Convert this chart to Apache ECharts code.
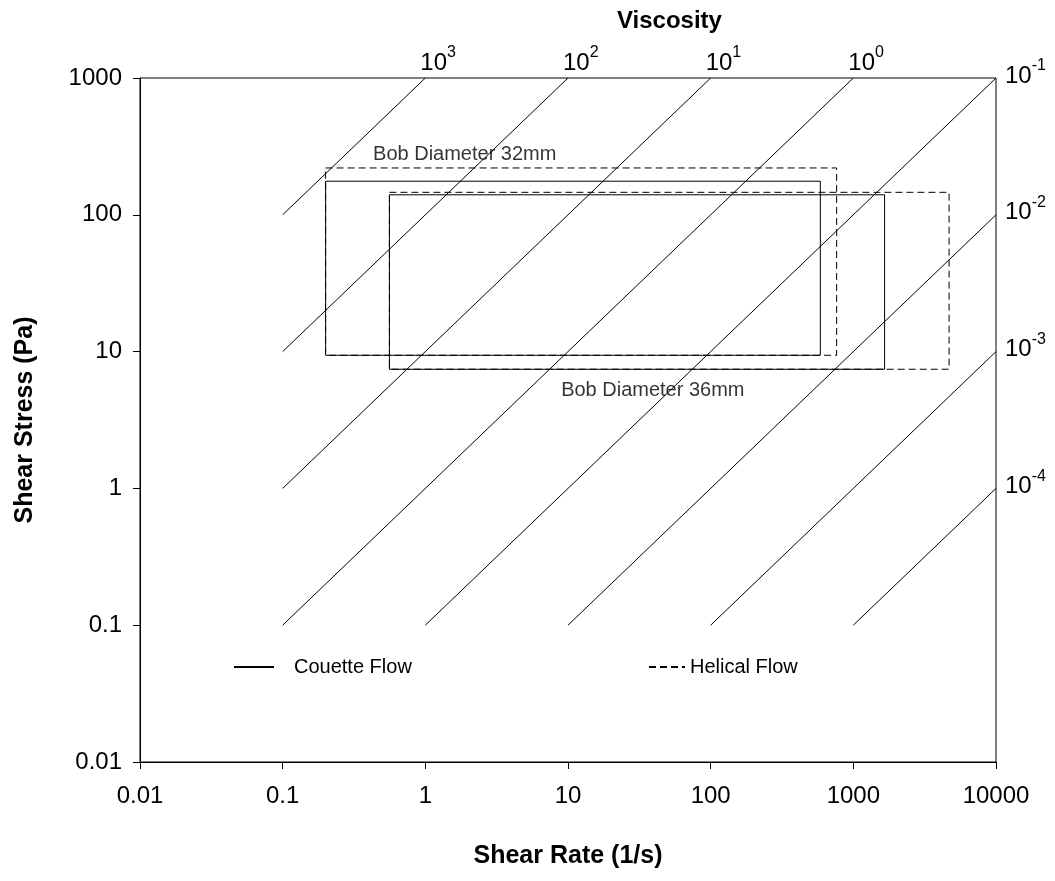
<!DOCTYPE html>
<html>
<head>
<meta charset="utf-8">
<script src="https://cdn.jsdelivr.net/npm/echarts@6/dist/echarts.min.js"></script>
<style>
html,body{margin:0;padding:0;background:#fff;}
#chart{width:1055px;height:881px;}
</style>
</head>
<body>
<div id="chart"></div>
<script>
// ---- data ----
const xTickLabels = ['0.01', '0.1', '1', '10', '100', '1000', '10000'];
const yTickLabels = ['0.01', '0.1', '1', '10', '100', '1000'];

// viscosity reference lines (Pa·s): start/end points in (shear rate, shear stress)
const viscExponents   = ['3', '2', '1', '0', '-1', '-2', '-3', '-4'];
const viscStartRate   = [0.1, 0.1, 0.1, 0.1, 1, 10, 100, 1000];
const viscStartStress = [100, 10, 1, 0.1, 0.1, 0.1, 0.1, 0.1];
const viscEndRate     = [1, 10, 100, 1000, 10000, 10000, 10000, 10000];
const viscEndStress   = [1000, 1000, 1000, 1000, 1000, 100, 10, 1];
const viscLabelSide   = ['top', 'top', 'top', 'top', 'right', 'right', 'right', 'right'];

// measuring windows (rectangles)
const rectFlow      = ['Couette Flow', 'Helical Flow', 'Couette Flow', 'Helical Flow'];
const rectRateMin   = [0.2, 0.2, 0.56, 0.56];
const rectRateMax   = [587, 764, 1656, 4690];
const rectStressMin = [9.4, 9.4, 7.43, 7.43];
const rectStressMax = [176, 220, 140, 146];

// annotations
const noteText   = ['Bob Diameter 32mm', 'Bob Diameter 36mm'];
const noteRate   = [0.43, 8.95];
const noteStress = [278, 5.24];

// ---- chart ----
const FONT = "'Liberation Sans', Arial, Helvetica, sans-serif";
const chart = echarts.init(document.getElementById('chart'), null, {renderer: 'canvas'});

function tickFmt(labels) {
  return function (v) {
    const i = Math.round(Math.log10(v)) + 2;
    return labels[i] !== undefined ? labels[i] : '';
  };
}

const series = [];

viscExponents.forEach(function (exp, i) {
  const side = viscLabelSide[i];
  const label = side === 'top'
    ? {show: true, position: [-5, -3], align: 'left', verticalAlign: 'bottom'}
    : {show: true, position: [9, -5], align: 'left', verticalAlign: 'middle'};
  label.formatter = '{b|10}{s|' + exp + '}';
  label.rich = {
    b: {fontSize: 24, fontFamily: FONT, color: '#000', lineHeight: 30, verticalAlign: 'bottom'},
    s: {fontSize: 16, fontFamily: FONT, color: '#000', lineHeight: 16, verticalAlign: 'top'}
  };
  series.push({
    type: 'line',
    name: 'visc' + exp,
    symbol: 'circle',
    symbolSize: 0,
    showSymbol: true,
    silent: true,
    clip: false,
    itemStyle: {color: '#000'},
    lineStyle: {color: '#000', width: 1},
    emphasis: {disabled: true},
    data: [
      [viscStartRate[i], viscStartStress[i]],
      {value: [viscEndRate[i], viscEndStress[i]], label: label}
    ]
  });
});

rectFlow.forEach(function (flow, i) {
  const x1 = rectRateMin[i], x2 = rectRateMax[i], y1 = rectStressMin[i], y2 = rectStressMax[i];
  series.push({
    type: 'line',
    name: flow,
    symbol: 'none',
    silent: true,
    itemStyle: {color: '#000'},
    lineStyle: {color: '#000', width: 1, type: flow === 'Helical Flow' ? [7, 4] : 'solid'},
    emphasis: {disabled: true},
    data: [[x1, y2], [x2, y2], [x2, y1], [x1, y1], [x1, y2]]
  });
});

series.push({
  type: 'scatter',
  name: 'notes',
  symbolSize: 0,
  silent: true,
  label: {
    show: true,
    position: [0, 0],
    align: 'left',
    verticalAlign: 'middle',
    fontSize: 20,
    fontFamily: FONT,
    color: '#000',
    formatter: function (p) { return noteText[p.dataIndex]; }
  },
  data: noteRate.map(function (r, i) { return [r, noteStress[i]]; })
});

const legendBase = {
  itemHeight: 14,
  padding: 0,
  selectedMode: false,
  itemStyle: {color: 'rgba(0,0,0,0)', borderColor: 'rgba(0,0,0,0)', borderWidth: 0, opacity: 0},
  lineStyle: {inactiveColor: '#000'}
};

const option = {
  animation: false,
  backgroundColor: '#fff',
  textStyle: {fontFamily: FONT},
  title: {
    text: 'Viscosity',
    left: 612,
    top: 4,
    textStyle: {fontSize: 24, fontWeight: 'bold', fontFamily: FONT, color: '#000'}
  },
  legend: [
    Object.assign({}, legendBase, {
      data: ['Couette Flow'],
      left: 233, top: 657,
      itemWidth: 40,
      textStyle: {fontSize: 20, fontFamily: FONT, color: '#000', padding: [0, 0, 0, 15]}
    }),
    Object.assign({}, legendBase, {
      data: ['Helical Flow'],
      left: 648, top: 657,
      itemWidth: 36,
      textStyle: {fontSize: 20, fontFamily: FONT, color: '#000'}
    })
  ],
  grid: {
    left: 140, right: 59, top: 78, bottom: 119,
    show: true, borderColor: '#000', borderWidth: 1, backgroundColor: 'transparent'
  },
  xAxis: {
    type: 'log', logBase: 10, min: 0.01, max: 10000, interval: 1,
    name: 'Shear Rate (1/s)', nameLocation: 'middle', nameGap: 82,
    nameTextStyle: {fontSize: 25, fontWeight: 'bold', fontFamily: FONT, color: '#000'},
    axisLine: {show: true, lineStyle: {color: '#000', width: 1}},
    axisTick: {show: true, inside: false, length: 7, lineStyle: {color: '#000'}},
    minorTick: {show: false},
    splitLine: {show: false},
    axisLabel: {fontSize: 24, fontFamily: FONT, color: '#000', margin: 22, formatter: tickFmt(xTickLabels)}
  },
  yAxis: {
    type: 'log', logBase: 10, min: 0.01, max: 1000, interval: 1,
    name: 'Shear Stress (Pa)', nameLocation: 'middle', nameGap: 102,
    nameTextStyle: {fontSize: 25, fontWeight: 'bold', fontFamily: FONT, color: '#000'},
    axisLine: {show: true, lineStyle: {color: '#000', width: 1}},
    axisTick: {show: true, inside: false, length: 7, lineStyle: {color: '#000'}},
    minorTick: {show: false},
    splitLine: {show: false},
    axisLabel: {fontSize: 24, fontFamily: FONT, color: '#000', margin: 18, formatter: tickFmt(yTickLabels)}
  },
  series: series
};

chart.setOption(option);
</script>
</body>
</html>
